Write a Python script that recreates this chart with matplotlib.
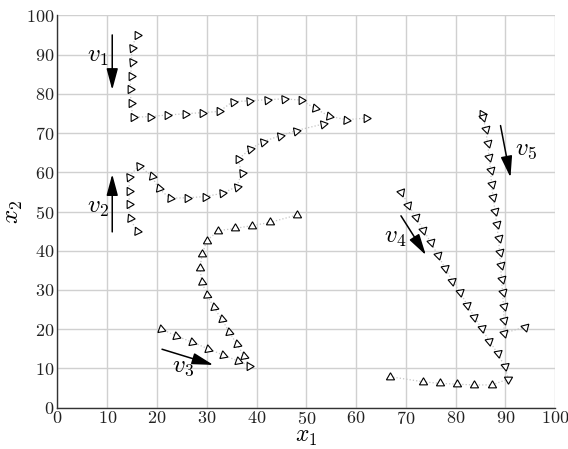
import matplotlib
matplotlib.use("Agg")
import matplotlib.pyplot as plt
from matplotlib.ticker import MultipleLocator

plt.rcParams['font.family'] = ['cmr10', 'DejaVu Serif']
plt.rcParams['mathtext.fontset'] = 'cm'
plt.rcParams['axes.formatter.use_mathtext'] = True

# trajectories (x1, x2) and marker heading (deg, 0 = pointing right)
v1_x = [15.9, 14.9, 14.9, 14.7, 14.6, 14.8, 15.1, 18.6, 22.1, 25.6, 29.1, 32.5,
        35.2, 38.5, 42.0, 45.5, 48.9, 51.7, 54.6, 58.0, 62.0]
v1_y = [95.0, 91.6, 88.0, 84.6, 81.1, 77.6, 74.0, 74.2, 74.6, 74.9, 75.2, 75.5,
        78.0, 78.2, 78.5, 78.7, 78.4, 76.3, 74.3, 73.4, 73.8]
v1_a = [0, 5, 5, 0, 0, 0, 0, 0, 0, 0, 0, 0, 5, 5, 5, 5, 0, -10, -10, -5, 0]

v2_x = [15.9, 14.6, 14.4, 14.4, 14.4, 16.4, 18.9, 20.3, 22.6, 26.1, 29.6, 33.0,
        36.0, 37.0, 36.3, 38.7, 41.3, 44.7, 47.9, 53.4]
v2_y = [45.0, 48.3, 51.8, 55.2, 58.9, 61.7, 59.1, 55.9, 53.4, 53.5, 53.8, 54.6,
        56.3, 59.7, 63.3, 65.9, 67.8, 69.3, 70.6, 72.3]
v2_a = [-5, -5, 0, 0, 5, 5, -10, -10, -5, 0, 0, 5, 10, 5, 0, 10, 10, 10, 10, 10]

v3_x = [20.8, 23.8, 27.1, 30.3, 33.3, 36.3, 38.5, 37.5, 36.0, 34.5, 33.0, 31.4,
        30.0, 29.0, 28.6, 29.1, 30.0, 32.3, 35.7, 39.1, 42.6, 48.1]
v3_y = [20.1, 18.3, 16.7, 15.0, 13.4, 11.9, 10.7, 13.2, 16.2, 19.4, 22.5, 25.6,
        28.8, 32.1, 35.7, 39.2, 42.6, 45.1, 45.7, 46.4, 47.2, 49.1]
v3_a = [-20, -20, -20, -20, -20, -20, 120, 100, 100, 100, 100, 100,
        95, 95, 90, 90, 90, 90, 90, 90, 90, 90]

v4_x = [69.1, 70.5, 72.0, 73.5, 75.0, 76.4, 77.8, 79.3, 80.9, 82.3, 83.7, 85.2,
        86.7, 88.4, 89.8, 90.6, 87.2, 83.7, 80.3, 76.8, 73.5, 66.8]
v4_y = [54.9, 51.7, 48.5, 45.3, 42.1, 38.9, 35.7, 32.4, 29.4, 26.2, 23.2, 20.2,
        17.1, 13.9, 10.6, 7.3, 5.8, 5.8, 6.0, 6.2, 6.6, 7.9]
v4_a = [170, 170, 165, 165, 165, 165, 160, 160, 160, 160, 160, 160,
        160, 160, 160, 150, -30, -30, -30, -30, -30, -30]

v5_x = [85.2, 85.5, 86.0, 86.4, 86.7, 87.0, 87.2, 87.5, 87.9, 88.2, 88.6, 88.8,
        89.0, 89.2, 89.4, 89.6, 89.7, 89.7, 94.0]
v5_y = [74.9, 74.2, 71.0, 67.4, 64.0, 60.6, 57.0, 53.6, 50.2, 46.7, 43.3, 39.8,
        36.4, 32.8, 29.4, 25.9, 22.4, 19.0, 20.6]
v5_a = [0, 165, 165, 165, 165, 165, 165, 165, 165, 165, 165, 165,
        165, 165, 165, 165, 165, 165, 165]

# initial velocity arrows: tail (x, y) -> head (x, y), label position
arrow_labels = ['$v_1$', '$v_2$', '$v_3$', '$v_4$', '$v_5$']
arrow_tail = [(11.0, 95.0), (11.0, 44.8), (21.0, 14.9), (69.0, 48.9), (89.0, 71.9)]
arrow_head = [(11.0, 81.0), (11.0, 59.5), (31.3, 10.9), (74.0, 38.9), (91.0, 58.7)]
label_pos = [(8.1, 89.4), (8.1, 50.9), (25.2, 10.3), (67.9, 43.2), (94.1, 65.7)]

fig = plt.figure(figsize=(5.68, 4.49), dpi=100)
ax = fig.add_axes([0.1012, 0.092, 0.8764, 0.8739])

for xs, ys, angs in [(v1_x, v1_y, v1_a), (v2_x, v2_y, v2_a), (v3_x, v3_y, v3_a),
                     (v4_x, v4_y, v4_a), (v5_x, v5_y, v5_a)]:
    ax.plot(xs, ys, linestyle=':', color='#c4c4c4', linewidth=0.9, zorder=2)
    for x, y, a in zip(xs, ys, angs):
        ax.plot([x], [y], linestyle='none', marker=(3, 0, a - 90), markersize=6.8,
                markerfacecolor='white', markeredgecolor='black',
                markeredgewidth=0.8, zorder=3)

for lab, t, h, p in zip(arrow_labels, arrow_tail, arrow_head, label_pos):
    ax.annotate('', xy=h, xytext=t,
                arrowprops=dict(arrowstyle='-|>,head_length=1.3,head_width=0.35',
                                color='black', lw=1.1, shrinkA=0, shrinkB=0),
                zorder=4)
    ax.text(p[0], p[1], lab, fontsize=18, ha='center', va='center', zorder=5)

ax.set_xlim(0, 100)
ax.set_ylim(0, 100)
ax.xaxis.set_major_locator(MultipleLocator(10))
ax.yaxis.set_major_locator(MultipleLocator(10))
ax.grid(True, color='#d0d0d0', linewidth=1.0, zorder=0)
ax.set_axisbelow(True)
for s in ['top', 'right']:
    ax.spines[s].set_visible(False)
for s in ['left', 'bottom']:
    ax.spines[s].set_color('#333333')
    ax.spines[s].set_linewidth(1.0)
ax.tick_params(length=0, labelsize=13, pad=2, colors='#222222')
ax.set_xlabel('$x_1$', fontsize=17, labelpad=-1)
ax.set_ylabel('$x_2$', fontsize=18, labelpad=1)

fig.savefig('out.png', dpi=100)
